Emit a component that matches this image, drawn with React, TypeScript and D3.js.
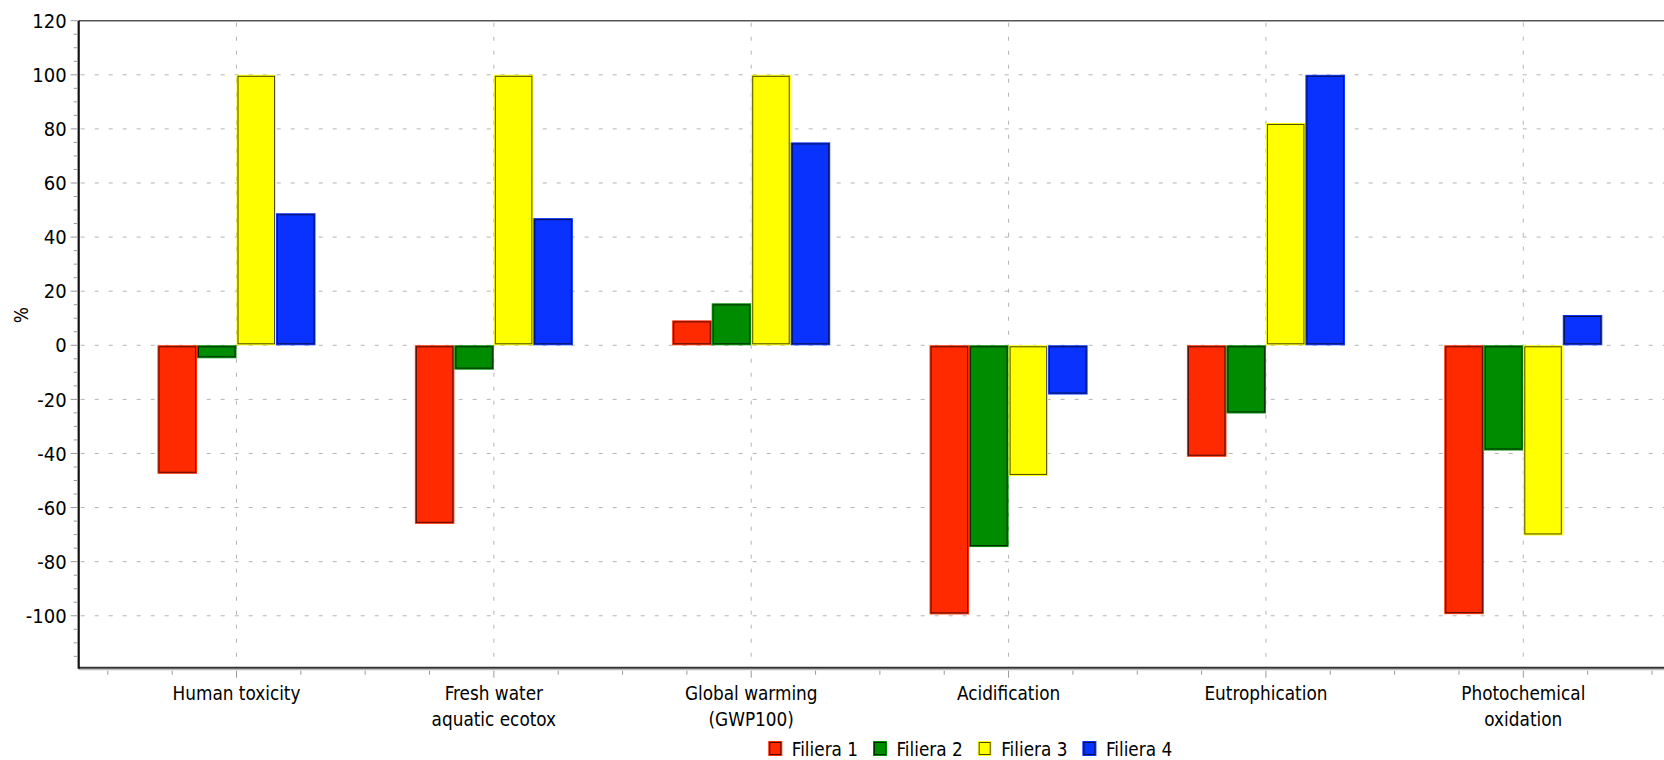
import * as d3 from "d3";

const categories = [
  ["Human toxicity"],
  ["Fresh water", "aquatic ecotox"],
  ["Global warming", "(GWP100)"],
  ["Acidification"],
  ["Eutrophication"],
  ["Photochemical", "oxidation"],
];
const seriesNames = ["Filiera 1", "Filiera 2", "Filiera 3", "Filiera 4"];
const seriesColors = ["#ff2a00", "#008c00", "#ffff00", "#0a32ff"];
const filiera1 = [-47.5, -66, 9.2, -99.5, -41.2, -99.4];
const filiera2 = [-4.8, -9, 15.5, -74.6, -25.2, -38.9];
const filiera3 = [100, 100, 100, -48.3, 82.2, -70.3];
const filiera4 = [48.8, 47, 75, -18.2, 100, 11.2];
const series = [filiera1, filiera2, filiera3, filiera4];
const yMajorTicks = [-100, -80, -60, -40, -20, 0, 20, 40, 60, 80, 100, 120];

const W = 1664, H = 760;
const left = 78.7, top = 20.7, bottom = 667.7, right = 1700;
const font = "'DejaVu Sans Condensed', 'DejaVu Sans', sans-serif";

export default function App() {
  const y = d3.scaleLinear([-119.2, 120], [bottom, top]);
  const x = d3.scaleLinear([0, 5], [236.5, 1523.3]);
  const step = x(1) - x(0);
  const inner = d3.scaleBand(seriesNames, [-79, 79]);
  const yMinor = d3.range(-115, 121, 5).filter((v) => v % 20 !== 0);
  const xMinor = d3.range(-0.5, 5.6, 0.25).filter((v) => Math.abs(v - Math.round(v)) > 0.01);
  const grid = yMajorTicks.filter((v) => v < 120);

  return (
    <svg width={W} height={H} style={{ position: "absolute", left: 0, top: 0, display: "block" }}
      fontFamily={font}>
      <rect width={W} height={H} fill="white" />
      {/* grid */}
      <g stroke="#b4b4b4" strokeWidth={1} strokeDasharray="4,10">
        {grid.map((v) => (
          <line key={v} x1={left + 2} x2={right} y1={y(v)} y2={y(v)} />
        ))}
        {categories.map((c, i) => (
          <line key={i} x1={x(i)} x2={x(i)} y1={top + 2} y2={bottom} />
        ))}
      </g>
      {/* bars */}
      {series.map((vals, s) => (
        <g key={s}>
          {vals.map((v, i) => {
            const bx = x(i) + inner(seriesNames[s])!;
            const bw = inner.bandwidth();
            const y0 = Math.min(y(0), y(v));
            const h = Math.abs(y(v) - y(0));
            return (
              <g key={i}>
                <rect x={bx + 0.5} y={y0 + 0.5} width={bw - 1} height={Math.max(h - 1, 0)}
                  fill={seriesColors[s]} stroke={seriesColors[s]} strokeWidth={1} />
                <rect x={bx + 1.5} y={y0 + 1.5} width={bw - 3} height={Math.max(h - 3, 0)}
                  fill="none" stroke="rgba(0,0,0,0.7)" strokeWidth={1} />
              </g>
            );
          })}
        </g>
      ))}
      {/* frame */}
      <line x1={left} x2={right} y1={top} y2={top} stroke="#555" strokeWidth={1.5} />
      <line x1={left} x2={right} y1={bottom} y2={bottom} stroke="#333" strokeWidth={2} />
      <line x1={left} x2={right} y1={bottom + 2} y2={bottom + 2} stroke="#aaa" strokeWidth={1} />
      <line x1={left} x2={left} y1={top} y2={bottom + 1} stroke="#111" strokeWidth={2.2} />
      {/* ticks */}
      <g stroke="#999" strokeWidth={1}>
        {yMajorTicks.map((v) => (
          <line key={v} x1={left - 8} x2={left - 1} y1={y(v)} y2={y(v)} />
        ))}
        {yMinor.map((v) => (
          <line key={v} x1={left - 5} x2={left - 1} y1={y(v)} y2={y(v)} />
        ))}
        {categories.map((c, i) => (
          <line key={i} x1={x(i)} x2={x(i)} y1={bottom + 3} y2={bottom + 10} />
        ))}
        {xMinor.map((v) => (
          <line key={v} x1={x(0) + v * step} x2={x(0) + v * step} y1={bottom + 3} y2={bottom + 7} />
        ))}
      </g>
      <g fontSize={20} fill="#000" textAnchor="end">
        {yMajorTicks.map((v) => (
          <text key={v} x={left - 12} y={y(v)} dy="0.36em">{v}</text>
        ))}
      </g>
      <text transform={`translate(28,315) rotate(-90)`} fontSize={19} fill="#000" textAnchor="middle">%</text>
      {/* category labels */}
      <g fontSize={18.8} fill="#000" textAnchor="middle">
        {categories.map((lines, i) => (
          <text key={i} x={x(i)} y={700}>
            {lines.map((l, j) => (
              <tspan key={j} x={x(i)} dy={j === 0 ? 0 : 26}>{l}</tspan>
            ))}
          </text>
        ))}
      </g>
      {/* legend */}
      <g fontSize={18.8} fill="#000">
        {seriesNames.map((n, s) => {
          const lx = 768.3 + s * 104.7;
          return (
            <g key={n}>
              <rect x={lx + 0.5} y={741.5} width={13} height={14} fill={seriesColors[s]} stroke={seriesColors[s]} />
              <rect x={lx + 1.5} y={742.5} width={11} height={12} fill="none" stroke="rgba(0,0,0,0.7)" />
              <text x={lx + 23.5} y={756}>{n}</text>
            </g>
          );
        })}
      </g>
    </svg>
  );
}
